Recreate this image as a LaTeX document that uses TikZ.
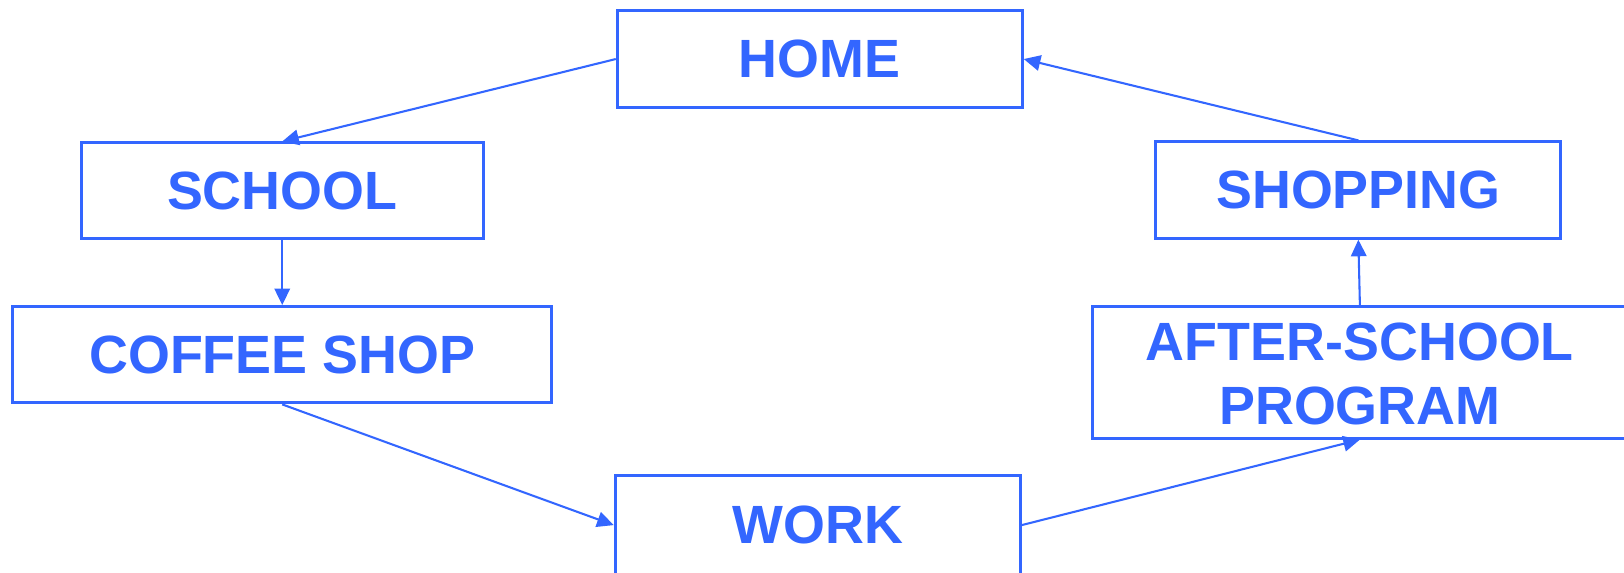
\documentclass[tikz,border=0pt]{standalone}
\usepackage{fontspec}
\setmainfont{Liberation Sans}
\usetikzlibrary{arrows.meta}
\definecolor{flowblue}{RGB}{51,102,255}
\tikzset{
  box/.style={draw=flowblue, line width=1.45pt, inner sep=0pt, fill=white},
  lbl/.style={text=flowblue, font=\fontsize{26}{31}\selectfont\bfseries, inner sep=0pt, align=center},
  conn/.style={draw=flowblue, line width=1pt, -{Triangle[length=8pt,width=7.5pt]}}
}
\begin{document}
\begin{tikzpicture}[x=0.5pt,y=-0.5pt]
\useasboundingbox (0,0) rectangle (1568,553);
\clip (0,0) rectangle (1568,553);
\node[box, lbl, minimum width=195.5pt, minimum height=47pt] (home) at (791.5,57) {HOME};
\node[box, lbl, minimum width=194pt, minimum height=46pt] (school) at (272.5,184) {SCHOOL};
\node[box, lbl, minimum width=260pt, minimum height=46.5pt] (coffee) at (272.5,342.5) {COFFEE SHOP};
\node[box, lbl, minimum width=195.5pt, minimum height=46.5pt] (shopping) at (1311.5,183.5) {SHOPPING};
\node[box, minimum width=195.5pt, minimum height=70.5pt] (work) at (789.5,529.5) {};
\node[lbl] (worktext) at (789.5,507) {WORK};
\node[box, minimum width=272.5pt, minimum height=63.5pt] (asp) at (1327.5,359.5) {};
\node[lbl] (asptext) at (1313,361) {AFTER-SCHOOL\\PROGRAM};
\draw[conn] (home.west) -- (school.north);
\draw[conn] (school.south) -- (coffee.north);
\draw[conn] (coffee.south) -- (work.west |- worktext);
\draw[conn] (work.east |- worktext) -- (asptext |- asp.south);
\draw[conn] (asptext |- asp.north) -- (shopping.south);
\draw[conn] (shopping.north) -- (home.east);
\end{tikzpicture}
\end{document}
